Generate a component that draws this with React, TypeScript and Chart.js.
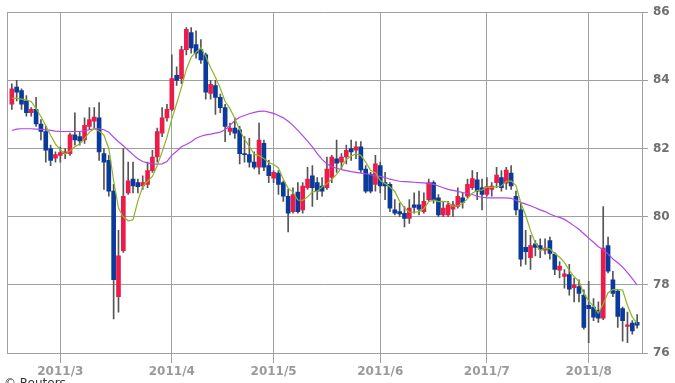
import React, { useEffect, useRef } from 'react';
import { Chart, registerables } from 'chart.js';

Chart.register(...registerables);

// Trading days (weekdays) starting 2011/2/15, 130 sessions
const START_DATE = '2011-02-15';
const SESSION_COUNT = 130;

const monthTickLabels = ['2011/3', '2011/4', '2011/5', '2011/6', '2011/7', '2011/8'];
const yTickValues = [76, 78, 80, 82, 84, 86];

const open = [
  83.30, 83.80, 83.70, 83.40, 83.05, 83.15, 82.72, 82.50, 82.00, 81.72,
  81.80, 81.85, 81.85, 82.40, 82.35, 82.25, 82.65, 82.80, 82.90, 81.85,
  81.65, 80.75, 77.65, 79.00, 80.70, 81.10, 81.00, 80.90, 80.95, 81.35,
  81.75, 82.45, 82.90, 83.15, 84.15, 84.05, 84.90, 85.40, 85.05, 84.90,
  84.75, 83.62, 83.85, 83.50, 83.20, 82.50, 82.60, 82.55, 81.85, 81.82,
  81.60, 81.45, 82.15, 81.50, 81.13, 81.28, 81.00, 80.60, 80.15, 80.72,
  80.20, 80.85, 81.20, 81.00, 80.90, 80.85, 81.15, 81.70, 81.60, 81.75,
  82.00, 81.95, 82.05, 81.40, 81.25, 80.95, 81.50, 81.00, 80.95, 80.20,
  80.15, 80.10, 79.95, 80.35, 80.35, 80.15, 80.50, 81.00, 80.55, 80.05,
  80.05, 80.22, 80.30, 80.55, 80.60, 80.85, 81.08, 80.85, 80.65, 80.80,
  81.00, 81.15, 80.98, 81.28, 80.60, 80.20, 79.10, 78.80, 79.20, 79.15,
  79.02, 79.30, 78.90, 78.43, 78.25, 78.30, 77.92, 77.95, 77.70, 77.40,
  77.35, 77.25, 77.02, 79.15, 78.15, 77.82, 77.30, 76.78, 76.88, 76.90,
];
const high = [
  83.90, 84.00, 83.75, 83.55, 83.20, 83.50, 82.85, 82.65, 82.10, 81.90,
  82.05, 82.00, 82.45, 83.05, 82.50, 82.90, 83.20, 83.20, 83.35, 82.00,
  81.80, 80.95, 79.60, 82.00, 81.60, 81.60, 81.10, 81.20, 81.60, 81.95,
  82.60, 83.20, 83.30, 84.75, 84.40, 85.00, 85.55, 85.55, 85.45, 85.20,
  84.80, 84.00, 84.00, 83.60, 83.30, 82.75, 82.90, 82.65, 82.35, 82.30,
  81.90, 82.75, 82.25, 81.65, 81.35, 81.35, 81.05, 80.80, 80.85, 81.00,
  81.00, 81.45, 81.50, 81.15, 81.15, 81.75, 81.80, 82.25, 81.85, 82.10,
  82.25, 82.20, 82.20, 81.50, 81.30, 81.80, 81.60, 81.30, 81.00, 80.50,
  80.40, 80.30, 80.50, 80.70, 80.75, 80.70, 81.10, 81.05, 80.65, 80.45,
  80.45, 80.45, 80.85, 80.70, 81.10, 81.35, 81.30, 81.10, 81.15, 81.00,
  81.45, 81.35, 81.45, 81.50, 80.75, 80.40, 79.60, 79.45, 79.30, 79.35,
  79.35, 79.40, 78.95, 78.68, 78.45, 78.60, 78.20, 78.15, 77.85, 78.10,
  77.60, 77.50, 80.30, 79.40, 78.40, 77.85, 77.35, 77.20, 76.95, 77.13,
];
const low = [
  83.15, 83.40, 83.15, 82.95, 82.95, 82.65, 82.25, 81.60, 81.50, 81.60,
  81.60, 81.70, 81.80, 82.10, 82.10, 82.15, 82.55, 82.60, 81.65, 80.80,
  80.60, 77.00, 77.20, 78.95, 80.65, 80.70, 80.70, 80.80, 80.85, 81.30,
  81.60, 82.35, 82.80, 83.10, 83.85, 83.90, 84.75, 84.80, 84.65, 84.50,
  83.45, 83.45, 83.00, 83.05, 82.20, 82.40, 82.30, 81.55, 81.60, 81.45,
  81.40, 81.25, 81.35, 81.00, 81.00, 80.65, 80.45, 79.55, 80.10, 80.10,
  80.10, 80.80, 80.30, 80.50, 80.60, 80.80, 81.00, 81.30, 81.40, 81.55,
  81.65, 81.70, 81.30, 80.70, 80.70, 80.75, 80.70, 80.50, 80.15, 80.05,
  80.00, 79.70, 79.80, 80.10, 80.05, 80.10, 80.45, 80.40, 80.00, 80.00,
  80.00, 80.00, 80.25, 80.25, 80.55, 80.80, 80.50, 80.20, 80.60, 80.60,
  80.85, 80.75, 80.80, 80.80, 80.05, 78.55, 78.60, 78.45, 78.85, 78.80,
  78.90, 78.75, 78.30, 78.20, 77.90, 77.70, 77.50, 77.50, 76.70, 76.30,
  76.95, 76.90, 76.98, 78.35, 77.65, 76.75, 76.35, 76.30, 76.55, 76.73,
];
const close = [
  83.75, 83.65, 83.30, 83.05, 83.15, 82.72, 82.50, 81.95, 81.65, 81.82,
  81.88, 81.90, 82.40, 82.25, 82.22, 82.68, 82.85, 82.92, 81.90, 81.60,
  80.75, 78.15, 78.85, 80.60, 81.05, 80.90, 80.88, 81.00, 81.35, 81.75,
  82.50, 82.90, 83.15, 84.05, 84.00, 84.90, 85.50, 84.95, 84.80, 84.60,
  83.65, 83.88, 83.50, 83.20, 82.65, 82.60, 82.45, 81.85, 81.82, 81.60,
  81.45, 82.25, 81.45, 81.20, 81.30, 80.95, 80.60, 80.10, 80.65, 80.15,
  80.90, 81.10, 80.85, 80.75, 80.75, 81.40, 81.75, 81.57, 81.75, 81.95,
  81.90, 82.05, 81.37, 80.75, 80.75, 81.55, 80.90, 80.90, 80.25, 80.10,
  80.08, 79.95, 80.25, 80.27, 80.22, 80.45, 81.00, 80.50, 80.05, 80.25,
  80.35, 80.35, 80.60, 80.42, 80.95, 81.12, 80.75, 80.65, 80.88, 80.90,
  81.22, 80.85, 81.37, 80.90, 80.20, 78.75, 78.97, 79.15, 79.10, 79.05,
  79.08, 78.92, 78.45, 78.55, 78.32, 77.87, 78.00, 77.75, 76.75, 77.30,
  77.05, 77.02, 79.08, 78.40, 77.75, 77.07, 76.95, 76.83, 76.65, 76.82,
];
// Short moving average (green line)
const maShort = [
  83.48, 83.47, 83.45, 83.42, 83.38, 83.17, 82.94, 82.67, 82.39, 82.13,
  81.96, 81.84, 81.93, 82.05, 82.13, 82.29, 82.48, 82.58, 82.51, 82.39,
  82.00, 81.06, 80.25, 79.99, 79.88, 79.91, 80.46, 80.89, 81.04, 81.18,
  81.50, 81.90, 82.33, 82.87, 83.32, 83.80, 84.32, 84.68, 84.83, 84.95,
  84.70, 84.38, 84.09, 83.77, 83.38, 83.17, 82.88, 82.55, 82.27, 82.06,
  81.83, 81.79, 81.71, 81.59, 81.53, 81.43, 81.10, 80.83, 80.72, 80.49,
  80.48, 80.58, 80.73, 80.75, 80.87, 80.97, 81.10, 81.24, 81.44, 81.68,
  81.78, 81.84, 81.80, 81.60, 81.36, 81.29, 81.06, 80.97, 80.87, 80.74,
  80.45, 80.26, 80.13, 80.13, 80.15, 80.23, 80.44, 80.49, 80.44, 80.45,
  80.43, 80.30, 80.32, 80.39, 80.53, 80.69, 80.77, 80.78, 80.87, 80.86,
  80.88, 80.90, 81.04, 81.05, 80.91, 80.41, 80.04, 79.59, 79.23, 79.00,
  79.07, 79.06, 78.92, 78.81, 78.66, 78.42, 78.24, 78.10, 77.74, 77.53,
  77.37, 77.17, 77.44, 77.77, 77.86, 77.86, 77.85, 77.40, 77.05, 76.86,
];
// Long moving average (purple line)
const maLong = [
  82.53, 82.57, 82.58, 82.58, 82.58, 82.57, 82.56, 82.55, 82.53, 82.51,
  82.50, 82.50, 82.50, 82.50, 82.50, 82.52, 82.55, 82.58, 82.58, 82.55,
  82.48, 82.33, 82.20, 82.08, 81.95, 81.82, 81.70, 81.62, 81.58, 81.55,
  81.54, 81.55, 81.62, 81.80, 81.92, 82.05, 82.12, 82.20, 82.30, 82.36,
  82.40, 82.42, 82.45, 82.48, 82.55, 82.68, 82.82, 82.92, 82.97, 83.02,
  83.06, 83.09, 83.10, 83.07, 83.03, 82.97, 82.90, 82.80, 82.68, 82.53,
  82.38, 82.22, 82.05, 81.85, 81.68, 81.55, 81.47, 81.42, 81.38, 81.35,
  81.32, 81.30, 81.28, 81.26, 81.23, 81.20, 81.18, 81.15, 81.10, 81.07,
  81.04, 81.03, 81.02, 81.01, 81.00, 80.99, 80.97, 80.95, 80.90, 80.85,
  80.80, 80.77, 80.74, 80.71, 80.68, 80.65, 80.60, 80.57, 80.55, 80.55,
  80.55, 80.55, 80.55, 80.54, 80.48, 80.42, 80.37, 80.32, 80.26, 80.20,
  80.15, 80.08, 80.02, 79.98, 79.92, 79.83, 79.73, 79.63, 79.50, 79.37,
  79.25, 79.12, 79.03, 78.90, 78.76, 78.65, 78.52, 78.36, 78.18, 77.99,
];

function buildSessions(start: string, n: number): string[] {
  const out: string[] = [];
  const d = new Date(start + 'T00:00:00Z');
  while (out.length < n) {
    const wd = d.getUTCDay();
    if (wd !== 0 && wd !== 6) {
      out.push(`${d.getUTCFullYear()}/${d.getUTCMonth() + 1}/${d.getUTCDate()}`);
    }
    d.setUTCDate(d.getUTCDate() + 1);
  }
  return out;
}

const sessions = buildSessions(START_DATE, SESSION_COUNT);
const monthTickIndex = monthTickLabels.map((m) => sessions.findIndex((s) => s.startsWith(m + '/')));

const RED = '#ee1a48';
const BLUE = '#0a3a9c';
const WICK = '#555555';
const GREEN = '#8cb526';
const PURPLE = '#b045ee';
const GRID = '#a0a0a0';

export default function App() {
  const ref = useRef<HTMLCanvasElement | null>(null);

  useEffect(() => {
    document.body.style.margin = '0';
    const canvas = ref.current;
    if (!canvas) return;
    const bodyColors = open.map((o, i) => (close[i] >= o ? RED : BLUE));
    const chart = new Chart(canvas, {
      type: 'bar',
      data: {
        datasets: [
          {
            type: 'line',
            label: 'MA short',
            data: maShort.map((v, i) => ({ x: i, y: v })),
            borderColor: GREEN,
            borderWidth: 1.2,
            pointRadius: 0,
            tension: 0,
            order: 0,
          } as any,
          {
            type: 'line',
            label: 'MA long',
            data: maLong.map((v, i) => ({ x: i, y: v })),
            borderColor: PURPLE,
            borderWidth: 1.2,
            pointRadius: 0,
            tension: 0,
            order: 0,
          } as any,
          {
            type: 'bar',
            label: 'body',
            data: open.map((o, i) => ({ x: i, y: [o, close[i]] })),
            backgroundColor: bodyColors,
            borderWidth: 0,
            barThickness: 4,
            grouped: false,
            minBarLength: 1,
            order: 1,
          } as any,
          {
            type: 'bar',
            label: 'wick',
            data: low.map((l, i) => ({ x: i, y: [l, high[i]] })),
            backgroundColor: WICK,
            borderWidth: 0,
            barThickness: 1,
            grouped: false,
            order: 2,
          } as any,
        ],
      },
      options: {
        responsive: false,
        animation: false,
        devicePixelRatio: 1,
        layout: { padding: { left: 7, top: 7, right: 0, bottom: 0 } },
        plugins: { legend: { display: false }, tooltip: { enabled: false } },
        scales: {
          x: {
            type: 'linear',
            min: -1,
            max: SESSION_COUNT,
            offset: false,
            afterBuildTicks: (s: any) => {
              s.ticks = [-1, ...monthTickIndex].map((v) => ({ value: v }));
            },
            afterFit: (s: any) => {
              s.height = 30;
            },
            grid: {
              offset: false,
              color: GRID,
              lineWidth: 1,
              drawTicks: true,
              tickLength: 10,
              tickColor: (ctx: any) => (ctx.tick && ctx.tick.value === -1 ? 'rgba(0,0,0,0)' : GRID),
            },
            border: { color: GRID, width: 1 },
            ticks: {
              autoSkip: false,
              maxRotation: 0,
              minRotation: 0,
              padding: 2,
              color: '#9a9a9a',
              font: { family: 'DejaVu Sans', size: 12, weight: 'bold' },
              callback: (v: any) => {
                const k = monthTickIndex.indexOf(Number(v));
                return k >= 0 ? monthTickLabels[k] : '';
              },
            },
          },
          y: {
            position: 'right',
            min: 76,
            max: 86,
            afterBuildTicks: (s: any) => {
              s.ticks = yTickValues.map((v) => ({ value: v }));
            },
            afterFit: (s: any) => {
              s.width = 33;
            },
            grid: { color: GRID, lineWidth: 1, drawTicks: true, tickLength: 6 },
            border: { color: GRID, width: 1 },
            ticks: {
              padding: 5,
              color: '#707070',
              font: { family: 'DejaVu Sans', size: 12, weight: 'bold' },
              callback: (v: any) => String(v),
            },
          },
        },
      } as any,
    });
    return () => chart.destroy();
  }, []);

  return (
    <div style={{ position: 'absolute', left: 0, top: 0, width: 675, height: 383, overflow: 'hidden', background: '#fff' }}>
      <canvas ref={ref} width={675} height={383} style={{ display: 'block' }} />
      <div
        style={{
          position: 'absolute',
          left: 4,
          top: 376,
          fontFamily: 'DejaVu Sans, sans-serif',
          fontSize: 12,
          color: '#333',
          lineHeight: '14px',
          whiteSpace: 'nowrap',
        }}
      >
        © Reuters
      </div>
    </div>
  );
}
